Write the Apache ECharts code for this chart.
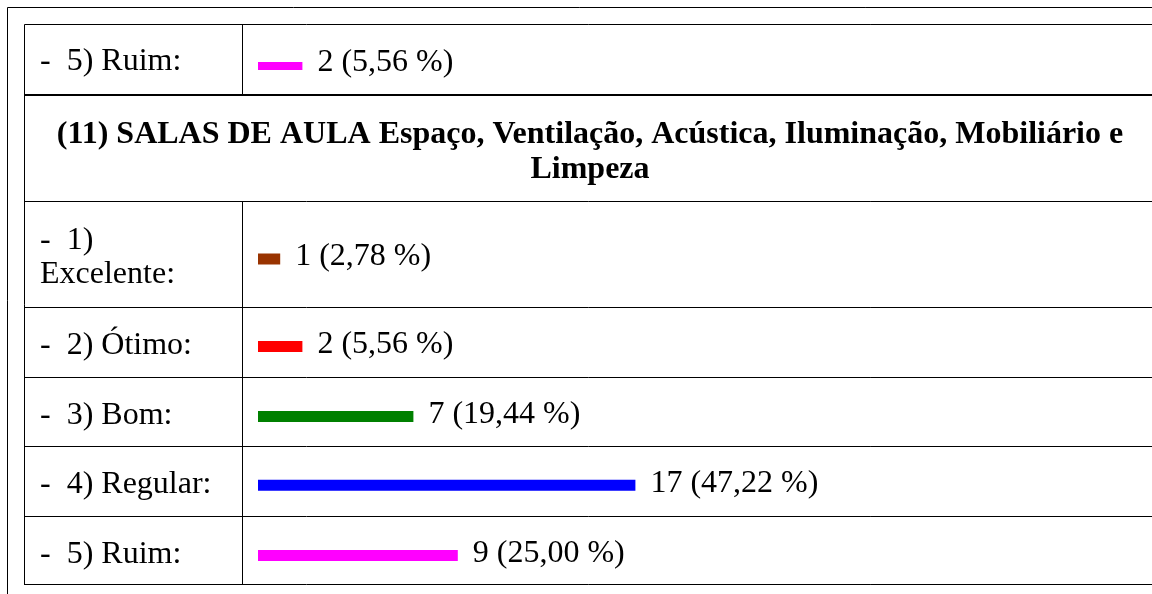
<!DOCTYPE html>
<html>
<head>
<meta charset="utf-8">
<style>
  html, body { margin: 0; padding: 0; background: #ffffff; }
  #chart { width: 1152px; height: 594px; }
</style>
<script src="https://cdn.jsdelivr.net/npm/echarts@6/dist/echarts.min.js"></script>
</head>
<body>
<div id="chart"></div>
<script>
// Last answer of question (10), shown above the next question
const prevCategories = ['-  5) Ruim:'];
const prevCounts = [2];
const prevPercents = ['5,56'];
const prevColors = ['#ff00ff'];

// Question (11)
const questionTitle = '(11) SALAS DE AULA Espaço, Ventilação, Acústica, Iluminação, Mobiliário e\nLimpeza';
const categories = ['-  1)\nExcelente:', '-  2) Ótimo:', '-  3) Bom:', '-  4) Regular:', '-  5) Ruim:'];
const counts = [1, 2, 7, 17, 9];
const percents = ['2,78', '5,56', '19,44', '47,22', '25,00'];
const colors = ['#993300', '#ff0000', '#008000', '#0000ff', '#ff00ff'];

const FONT = 'Liberation Serif, Times New Roman, serif';
const FS = 32;
const AXIS_MAX = 40;

// row layout: centre of each bar, its thickness, where the row caption sits,
// and how far the value text sits above the bar centre
const rows = [
  { cat: prevCategories[0], count: prevCounts[0], pct: prevPercents[0], color: prevColors[0], center: 66, bar: 8, textCenter: 62, valueLift: 3 }
];
const centers = [259, 346.4, 416.5, 485.3, 555.5];
categories.forEach((c, i) => {
  rows.push({ cat: c, count: counts[i], pct: percents[i], color: colors[i], center: centers[i], bar: 11, textCenter: centers[i] - 1, valueLift: 2 });
});

const grids = [], xAxes = [], yAxes = [], series = [];
const H = 30;
rows.forEach((r, i) => {
  // grid carrying the bar of this row
  const gi = grids.length;
  grids.push({ left: 258, width: 888, top: r.center - H / 2, height: H, containLabel: false });
  xAxes.push({ type: 'value', gridIndex: gi, min: 0, max: AXIS_MAX, show: false });
  yAxes.push({ type: 'category', gridIndex: gi, data: [r.cat], show: false });
  series.push({
    type: 'bar', xAxisIndex: gi, yAxisIndex: gi, barWidth: r.bar,
    data: [{ value: r.count, itemStyle: { color: r.color } }],
    label: {
      show: true, position: 'right', distance: 15, color: '#000',
      fontFamily: FONT, fontSize: FS, offset: [0, -r.valueLift],
      formatter: () => r.count + ' (' + r.pct + ' %)'
    },
    silent: true, animation: false
  });
  // companion grid whose category axis writes the row caption in the left cell
  const li = grids.length;
  grids.push({ left: 258, width: 888, top: r.textCenter - H / 2, height: H, containLabel: false });
  xAxes.push({ type: 'value', gridIndex: li, min: 0, max: AXIS_MAX, show: false });
  yAxes.push({
    type: 'category', gridIndex: li, data: [r.cat],
    axisLine: { show: false }, axisTick: { show: false }, splitLine: { show: false },
    axisLabel: {
      align: 'left', margin: 218, color: '#000', fontFamily: FONT, fontSize: FS, lineHeight: 34
    }
  });
});

// table rules
const line = (x1, y1, x2, y2, w) => ({
  type: 'line', shape: { x1, y1, x2, y2 }, style: { stroke: '#000', lineWidth: w || 1 }, silent: true
});
const graphics = [
  line(7.5, 7.5, 7.5, 594), line(7.5, 7.5, 1152, 7.5),
  line(24.5, 24.5, 24.5, 585), line(24.5, 24.5, 1152, 24.5),
  line(24.5, 95, 1152, 95, 2),
  line(24.5, 201.5, 1152, 201.5),
  line(24.5, 307.5, 1152, 307.5),
  line(24.5, 377.5, 1152, 377.5),
  line(24.5, 446.5, 1152, 446.5),
  line(24.5, 516.5, 1152, 516.5),
  line(24.5, 584.5, 1152, 584.5),
  line(242.5, 24.5, 242.5, 95),
  line(242.5, 201.5, 242.5, 585)
];

const chart = echarts.init(document.getElementById('chart'), null, { renderer: 'canvas' });
chart.setOption({
  backgroundColor: '#ffffff',
  animation: false,
  title: {
    text: questionTitle, left: 590, top: 117, textAlign: 'center', padding: 0,
    textStyle: { fontFamily: FONT, fontWeight: 'bold', fontSize: 32, lineHeight: 35, color: '#000' }
  },
  grid: grids, xAxis: xAxes, yAxis: yAxes, series: series,
  graphic: graphics
});
</script>
</body>
</html>
